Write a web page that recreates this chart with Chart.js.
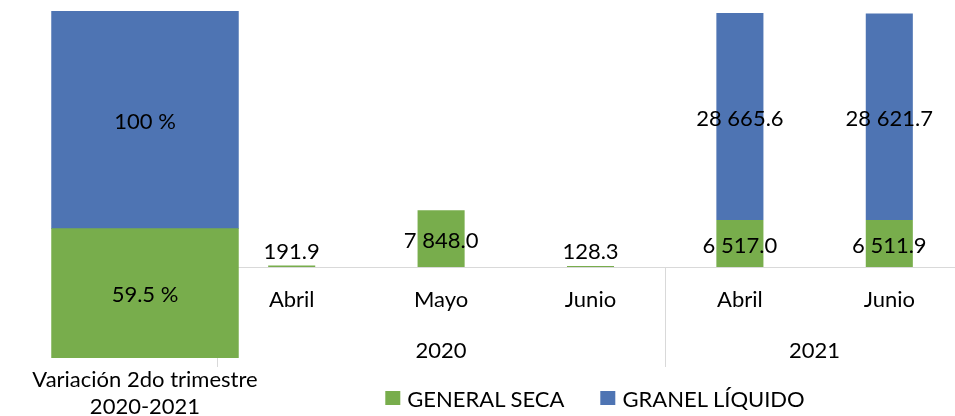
<!DOCTYPE html>
<html>
<head>
<meta charset="utf-8">
<script src="https://cdn.jsdelivr.net/npm/chart.js@4.4.1/dist/chart.umd.min.js"></script>
<style>
  html, body { margin: 0; padding: 0; background: #fff; }
  body { width: 955px; height: 416px; overflow: hidden; position: relative; font-family: Lato, sans-serif; }
  #right { position: absolute; left: 217px; top: 0; width: 747px; height: 416px; }
  #left { position: absolute; left: 0; top: 0; width: 290px; height: 416px; z-index: 2; }
  #legend { position: absolute; top: 385px; left: 595px; transform: translateX(-50%); display: flex; align-items: center; height: 26px; font-size: 22px; color: #000; white-space: nowrap; }
  #legend span.box { display: inline-block; width: 15px; height: 14px; margin-right: 7px; }
  #legend .item { display: flex; align-items: center; margin-right: 36px; }
  #legend .item:last-child { margin-right: 0; }
</style>
</head>
<body>
<div id="right"><canvas id="monthChart"></canvas></div>
<div id="left"><canvas id="variationChart"></canvas></div>
<div id="legend"></div>
<script>
// data
const months = ['Abril', 'Mayo', 'Junio', 'Abril', 'Junio'];
const years = ['2020', '2020', '2020', '2021', '2021'];
const generalSeca = [191.9, 7848.0, 128.3, 6517.0, 6511.9];
const granelLiquido = [null, null, null, 28665.6, 28621.7];

const variationLabel = [['Variación 2do trimestre', '2020-2021']];
const variationSeca = [59.5];
const variationLiquido = [100];

const seriesNames = ['GENERAL SECA', 'GRANEL LÍQUIDO'];

const GREEN = '#78ad4c';
const BLUE = '#4e74b3';
const GRID = '#d9d9d9';
const FONT_SIZE = 22;

function formatNumber(v) {
  const parts = v.toFixed(1).split('.');
  parts[0] = parts[0].replace(/\B(?=(\d{3})+(?!\d))/g, ' ');
  return parts.join('.');
}

function makeValueLabels(format) {
  return {
    id: 'valueLabels',
    afterDatasetsDraw(chart) {
      const ctx = chart.ctx;
      ctx.save();
      ctx.font = FONT_SIZE + 'px Lato';
      ctx.fillStyle = '#000';
      ctx.textAlign = 'center';
      ctx.textBaseline = 'middle';
      chart.data.datasets.forEach((ds, di) => {
        chart.getDatasetMeta(di).data.forEach((bar, i) => {
          const v = ds.data[i];
          if (v == null) return;
          let y = (bar.y + bar.base) / 2 + 2;
          y = Math.min(y, bar.base - 15);
          ctx.fillText(format(v), bar.x, y);
        });
      });
      ctx.restore();
    }
  };
}

const yearGroups = {
  id: 'yearGroups',
  afterDraw(chart) {
    const ctx = chart.ctx;
    const x = chart.scales.x;
    const bottom = chart.chartArea.bottom;
    const step = x.getPixelForValue(1) - x.getPixelForValue(0);
    const edges = [x.left];
    const groups = [];
    let start = 0;
    for (let i = 1; i <= years.length; i++) {
      if (i === years.length || years[i] !== years[start]) {
        const l = x.getPixelForValue(start) - step / 2;
        const r = x.getPixelForValue(i - 1) + step / 2;
        groups.push({ label: years[start], center: (l + r) / 2 });
        edges.push(r);
        start = i;
      }
    }
    ctx.save();
    ctx.strokeStyle = GRID;
    ctx.lineWidth = 1;
    edges.forEach(e => {
      const px = Math.round(e) + 0.5;
      ctx.beginPath();
      ctx.moveTo(px, bottom);
      ctx.lineTo(px, bottom + 100);
      ctx.stroke();
    });
    ctx.font = FONT_SIZE + 'px Lato';
    ctx.fillStyle = '#000';
    ctx.textAlign = 'center';
    ctx.textBaseline = 'middle';
    groups.forEach(g => ctx.fillText(g.label, g.center, bottom + 84));
    ctx.restore();
  }
};

new Chart(document.getElementById('monthChart'), {
  type: 'bar',
  data: {
    labels: months,
    datasets: [
      { label: seriesNames[0], data: generalSeca, backgroundColor: GREEN, barPercentage: 0.63, categoryPercentage: 0.5 },
      { label: seriesNames[1], data: granelLiquido, backgroundColor: BLUE, barPercentage: 0.63, categoryPercentage: 0.5 }
    ]
  },
  options: {
    responsive: true,
    maintainAspectRatio: false,
    animation: false,
    layout: { padding: 0 },
    plugins: { legend: { display: false }, tooltip: { enabled: false } },
    scales: {
      x: {
        stacked: true,
        grid: { display: false, drawTicks: false },
        border: { display: true, color: GRID, width: 1 },
        ticks: { color: '#000', font: { family: 'Lato', size: FONT_SIZE }, padding: 20, maxRotation: 0, autoSkip: false },
        afterFit: (scale) => { scale.height = 149; }
      },
      y: { stacked: true, display: false, min: 0, max: 37000 }
    }
  },
  plugins: [makeValueLabels(formatNumber), yearGroups]
});

new Chart(document.getElementById('variationChart'), {
  type: 'bar',
  data: {
    labels: variationLabel,
    datasets: [
      { label: seriesNames[0], data: variationSeca, backgroundColor: GREEN, barPercentage: 1, categoryPercentage: 1 },
      { label: seriesNames[1], data: variationLiquido, backgroundColor: BLUE, barPercentage: 1, categoryPercentage: 1 }
    ]
  },
  options: {
    responsive: true,
    maintainAspectRatio: false,
    animation: false,
    layout: { padding: { left: 49, right: 51, top: 11, bottom: 0 } },
    plugins: { legend: { display: false }, tooltip: { enabled: false } },
    scales: {
      x: {
        stacked: true,
        grid: { display: false, drawTicks: false },
        border: { display: false },
        ticks: { color: '#000', font: { family: 'Lato', size: FONT_SIZE, lineHeight: 1.25 }, padding: 8, maxRotation: 0, autoSkip: false },
        afterFit: (scale) => { scale.height = 58; }
      },
      y: { stacked: true, display: false, min: 0, max: variationSeca[0] + variationLiquido[0] }
    }
  },
  plugins: [makeValueLabels(v => v + ' %')]
});

// legend
const legend = document.getElementById('legend');
[[seriesNames[0], GREEN], [seriesNames[1], BLUE]].forEach(([name, color]) => {
  const item = document.createElement('div');
  item.className = 'item';
  item.innerHTML = '<span class="box" style="background:' + color + '"></span>' + name;
  legend.appendChild(item);
});
</script>
</body>
</html>
